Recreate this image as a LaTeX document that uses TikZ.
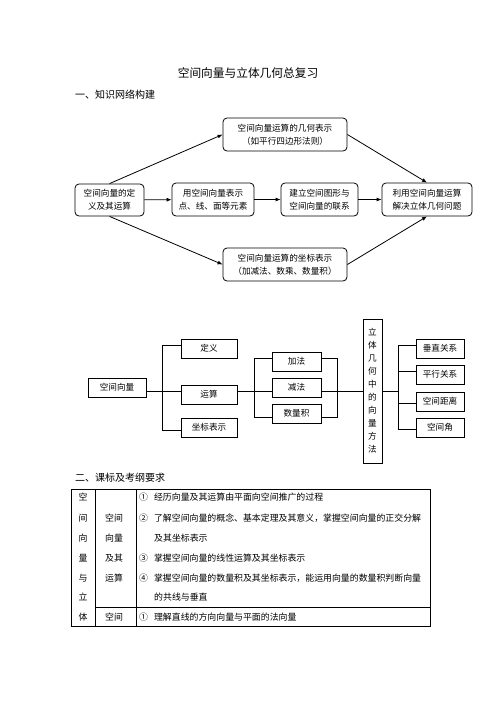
\documentclass[tikz,border=0pt]{standalone}
\usepackage{fontspec}
\setmainfont{Noto Sans CJK SC}
\usepackage{tikz}
\usetikzlibrary{positioning,calc}
\usetikzlibrary{arrows.meta}
\tikzset{
  rbox/.style={draw=black,line width=0.8pt,rounded corners=4pt,align=center,
    inner sep=0pt,font=\fontsize{8.6}{13}\selectfont},
  sbox/.style={draw=black,line width=0.8pt,align=center,inner sep=0pt,
    minimum height=19pt,font=\fontsize{8.6}{13}\selectfont},
  arr/.style={draw=black,line width=0.8pt,-{Latex[length=5pt,width=4pt]}},
  link/.style={draw=black,line width=0.8pt},
  tab/.style={draw=black,line width=0.8pt},
  cell/.style={inner sep=0pt,font=\fontsize{8.9}{10}\selectfont},
}

\begin{document}
\begin{tikzpicture}[x=1pt,y=-1pt]
\useasboundingbox[fill=white] (0,0) rectangle (496,702);

% headings
\node[font=\fontsize{11.7}{12}\selectfont] (title) at (248,73) {空间向量与立体几何总复习};
\node[anchor=west,inner sep=0pt,font=\fontsize{10}{12}\selectfont] (h1) at (75,95) {一、知识网络构建};
\node[anchor=west,inner sep=0pt,font=\fontsize{10}{12}\selectfont] (h2) at (75,478) {二、课标及考纲要求};

% knowledge network
\node[rbox,minimum width=124pt,minimum height=33pt] (geo) at (285,134.5) {空间向量运算的几何表示\\（如平行四边形法则）};
\node[rbox,minimum width=69pt,minimum height=32pt] (defn) at (109.5,200) {空间向量的定\\义及其运算};
\node[rbox,minimum width=82pt,minimum height=33pt] (rep) at (213,199.5) {用空间向量表示\\点、线、面等元素};
\node[rbox,minimum width=77pt,minimum height=33pt] (conn) at (319.5,199.5) {建立空间图形与\\空间向量的联系};
\node[rbox,minimum width=90pt,minimum height=33pt] (solve) at (427,199.5) {利用空间向量运算\\解决立体几何问题};
\node[rbox,minimum width=124pt,minimum height=33pt] (crdrep) at (285,264.5) {空间向量运算的坐标表示\\（加减法、数乘、数量积）};

\draw[arr] (defn.north) -- (geo.west);
\draw[arr] (geo.east) -- (solve.north);
\draw[arr] (defn.south) -- (crdrep.west);
\draw[arr] (crdrep.east) -- (solve.south);
\draw[arr] (defn) -- (rep);
\draw[arr] (rep) -- (conn);
\draw[arr] (conn) -- (solve);

% structure chart
\node[sbox,minimum width=58pt] (vec) at (117,387.5) {空间向量};
\node[sbox,minimum width=56pt] (def) at (209,348.5) {定义};
\node[sbox,minimum width=56pt] (op) at (209,394.5) {运算};
\node[sbox,minimum width=56pt] (crd) at (209,427.5) {坐标表示};
\node[sbox,minimum width=49pt] (add) at (296.5,361.5) {加法};
\node[sbox,minimum width=49pt] (sub) at (296.5,387.5) {减法};
\node[sbox,minimum width=49pt] (dot) at (296.5,413.5) {数量积};
\node[sbox,minimum width=19pt,minimum height=144pt] (meth) at (372.5,391) {立\\体\\几\\何\\中\\的\\向\\量\\方\\法};
\node[sbox,minimum width=48pt] (perp) at (440,348.5) {垂直关系};
\node[sbox,minimum width=48pt] (para) at (440,374.5) {平行关系};
\node[sbox,minimum width=48pt] (dist) at (440,401.5) {空间距离};
\node[sbox,minimum width=48pt] (ang) at (440,427.5) {空间角};

\coordinate (b1t) at (162,345);
\coordinate (b1m) at (162,391);
\coordinate (b1b) at (162,430);
\draw[link] (vec.east |- b1m) -- (op.west |- b1m);
\draw[link] (def.west |- b1t) -- (b1t) -- (b1b) -- (crd.west |- b1b);

\coordinate (b2t) at (254,358);
\coordinate (b2m) at (254,391);
\coordinate (b2b) at (254,417);
\draw[link] (op.east |- b2m) -- (sub.west |- b2m);
\draw[link] (add.west |- b2t) -- (b2t) -- (b2b) -- (dot.west |- b2b);

\coordinate (b3t) at (337,358);
\coordinate (b3b) at (337,417);
\draw[link] (add.east |- b3t) -- (b3t) -- (b3b) -- (dot.east |- b3b);
\draw[link] (sub.east |- b2m) -- (meth.west |- b2m);

\coordinate (b4t) at (398,345);
\coordinate (b4m) at (398,391);
\coordinate (b4b) at (398,429);
\coordinate (b4p) at (398,371);
\coordinate (b4d) at (398,403);
\draw[link] (meth.east |- b4m) -- (b4m);
\draw[link] (perp.west |- b4t) -- (b4t) -- (b4b) -- (ang.west |- b4b);
\draw[link] (b4p) -- (para.west |- b4p);
\draw[link] (b4d) -- (dist.west |- b4d);

% table
\draw[tab] (71,489) rectangle (430,626);
\draw[tab] (95,489) -- (95,626);
\draw[tab] (136,489) -- (136,626);
\draw[tab] (95,607) -- (430,607);

\foreach \c/\y [count=\i] in {空/497,间/518,向/538,量/558,与/578,立/597,体/617}
  \node[cell] (c\i) at (83,\y) {\c};
\foreach \c/\y [count=\i] in {空间/518,向量/538,及其/558,运算/578,空间/617}
  \node[cell] (d\i) at (114,\y) {\c};

\node[cell,anchor=west] (r1) at (139,497) {①\hspace{6pt}经历向量及其运算由平面向空间推广的过程};
\node[cell,anchor=west] (r2) at (139,518) {②\hspace{6pt}了解空间向量的概念、基本定理及其意义，掌握空间向量的正交分解};
\node[cell,anchor=west] (r3) at (154,538) {及其坐标表示};
\node[cell,anchor=west] (r4) at (139,558) {③\hspace{6pt}掌握空间向量的线性运算及其坐标表示};
\node[cell,anchor=west] (r5) at (139,578) {④\hspace{6pt}掌握空间向量的数量积及其坐标表示，能运用向量的数量积判断向量};
\node[cell,anchor=west] (r6) at (154,597) {的共线与垂直};
\node[cell,anchor=west] (r7) at (139,617) {①\hspace{6pt}理解直线的方向向量与平面的法向量};
\end{tikzpicture}
\end{document}
